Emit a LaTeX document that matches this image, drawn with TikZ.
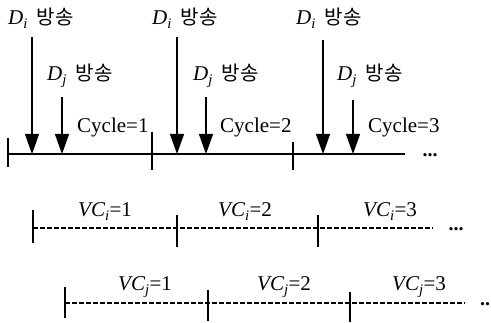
\documentclass[tikz,border=0pt]{standalone}
\usepackage{fontspec}
\setmainfont{Liberation Serif}
\newfontfamily\krfont{Noto Sans CJK KR}
\usetikzlibrary{arrows.meta}
\newcommand\Dlab[1]{{\itshape D\textsubscript{#1}}\hspace{9pt}{\krfont\fontsize{20}{24}\selectfont 방송}}
\newcommand\VClab[2]{{\itshape VC\textsubscript{#1}}=#2}
\begin{document}
\begin{tikzpicture}[x=1pt,y=-1pt,
  lbl/.style={anchor=base west, inner sep=0pt, font=\fontsize{21}{24}\selectfont},
  dots/.style={anchor=base, inner sep=0pt, font=\fontsize{20}{24}\selectfont\bfseries},
  axis/.style={line width=1.8pt},
  tick/.style={line width=1.6pt},
  send/.style={line width=1.4pt, -{Triangle[width=14pt,length=20pt]}},
  vcline/.style={line width=1.2pt, dash pattern=on 4.5pt off 2.5pt},
]
\useasboundingbox (0,0) rectangle (491,323);

% ---- top labels
\node[lbl] (di1) at (8,25) {\Dlab{i}};
\node[lbl] (di2) at (152,25) {\Dlab{i}};
\node[lbl] (di3) at (296,25) {\Dlab{i}};
\node[lbl] (dj1) at (47,81) {\Dlab{j}};
\node[lbl] (dj2) at (193,81) {\Dlab{j}};
\node[lbl] (dj3) at (337,81) {\Dlab{j}};
\node[lbl] (c1) at (77,133) {Cycle=1};
\node[lbl] (c2) at (220,133) {Cycle=2};
\node[lbl] (c3) at (368,133) {Cycle=3};

% ---- main axis
\coordinate (a0) at (8,154);
\coordinate (a1) at (405,154);
\draw[axis] (a0) -- (a1);
\node[dots] (adots) at (430,157) {...};
\coordinate (t0a) at (8,138);   \coordinate (t0b) at (8,167);
\coordinate (t1a) at (152,132); \coordinate (t1b) at (152,170);
\coordinate (t2a) at (293,142); \coordinate (t2b) at (293,170);
\draw[tick] (t0a) -- (t0b);
\draw[tick] (t1a) -- (t1b);
\draw[tick] (t2a) -- (t2b);

% ---- send arrows
\coordinate (si1) at (32,37);  \coordinate (hi1) at (32,154);
\coordinate (si2) at (177,37); \coordinate (hi2) at (177,154);
\coordinate (si3) at (323,40); \coordinate (hi3) at (323,154);
\coordinate (sj1) at (62,97);  \coordinate (hj1) at (62,154);
\coordinate (sj2) at (206,97); \coordinate (hj2) at (206,154);
\coordinate (sj3) at (353,100);\coordinate (hj3) at (353,154);
\draw[send] (si1) -- (hi1);
\draw[send] (si2) -- (hi2);
\draw[send] (si3) -- (hi3);
\draw[send] (sj1) -- (hj1);
\draw[send] (sj2) -- (hj2);
\draw[send] (sj3) -- (hj3);

% ---- VC_i row
\node[lbl] (vi1) at (78,217) {\VClab{i}{1}};
\node[lbl] (vi2) at (218,217) {\VClab{i}{2}};
\node[lbl] (vi3) at (363,217) {\VClab{i}{3}};
\coordinate (vi0) at (33,228); \coordinate (viE) at (433,228);
\draw[vcline] (vi0) -- (viE);
\node[dots] (vidots) at (456,231) {...};
\coordinate (ui0a) at (33,210);  \coordinate (ui0b) at (33,243);
\coordinate (ui1a) at (177,215); \coordinate (ui1b) at (177,247);
\coordinate (ui2a) at (318,215); \coordinate (ui2b) at (318,247);
\draw[tick] (ui0a) -- (ui0b);
\draw[tick] (ui1a) -- (ui1b);
\draw[tick] (ui2a) -- (ui2b);

% ---- VC_j row
\node[lbl] (vj1) at (118,291) {\VClab{j}{1}};
\node[lbl] (vj2) at (257,291) {\VClab{j}{2}};
\node[lbl] (vj3) at (392,291) {\VClab{j}{3}};
\coordinate (vj0) at (65,303); \coordinate (vjE) at (465,303);
\draw[vcline] (vj0) -- (vjE);
\node[dots] (vjdots) at (485,306) {..};
\coordinate (uj0a) at (65,287);  \coordinate (uj0b) at (65,318);
\coordinate (uj1a) at (208,290); \coordinate (uj1b) at (208,321);
\coordinate (uj2a) at (350,292); \coordinate (uj2b) at (350,322);
\draw[tick] (uj0a) -- (uj0b);
\draw[tick] (uj1a) -- (uj1b);
\draw[tick] (uj2a) -- (uj2b);
\end{tikzpicture}
\end{document}
